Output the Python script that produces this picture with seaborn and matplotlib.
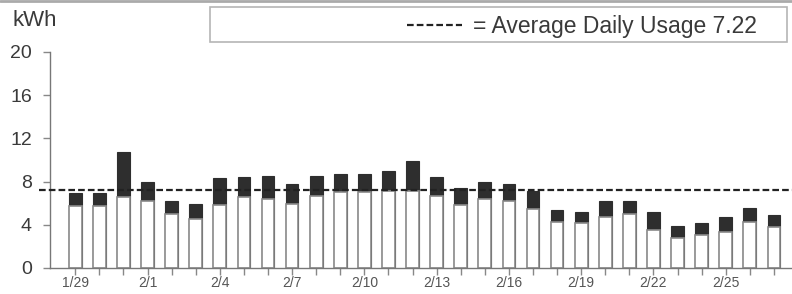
import numpy as np
import pandas as pd
import matplotlib
matplotlib.use("Agg")
import matplotlib.pyplot as plt
from matplotlib.lines import Line2D
from matplotlib.patches import Rectangle
import seaborn as sns

# Daily usage (kWh)
dates = ["1/29", "1/30", "1/31"] + [f"2/{d}" for d in range(1, 28)]
total_kwh = [6.9, 6.9, 10.7, 8.0, 6.2, 5.9, 8.3, 8.4, 8.5, 7.8,
             8.5, 8.7, 8.7, 9.0, 9.9, 8.4, 7.4, 8.0, 7.8, 7.1,
             5.4, 5.2, 6.2, 6.2, 5.2, 3.9, 4.2, 4.7, 5.6, 4.9]
base_kwh = [5.7, 5.7, 6.6, 6.2, 5.0, 4.5, 5.8, 6.6, 6.4, 5.9,
            6.7, 7.0, 7.0, 7.1, 7.1, 6.7, 5.8, 6.4, 6.2, 5.5,
            4.3, 4.2, 4.7, 5.0, 3.5, 2.8, 3.1, 3.3, 4.3, 3.8]
avg_usage = 7.22
y_ticks = [0, 4, 8, 12, 16, 20]

sns.set_theme(style="white")
plt.rcParams['font.family'] = ['Liberation Sans', 'DejaVu Sans']

df = pd.DataFrame({"date": dates, "total": total_kwh, "base": base_kwh})

fig = plt.figure(figsize=(7.92, 2.94), dpi=100)
ax = fig.add_axes([50 / 792, 26 / 294, 742 / 792, 216 / 294])

# dark top part = whole bar, white base drawn over it
sns.barplot(data=df, x="date", y="total", color="#2e2e2e", saturation=1,
            width=0.53, errorbar=None, edgecolor="#2e2e2e", linewidth=0.8, ax=ax)
sns.barplot(data=df, x="date", y="base", color="white", saturation=1,
            width=0.53, errorbar=None, edgecolor="#8a8a8a", linewidth=1.2, ax=ax)

ax.axhline(avg_usage, xmin=-0.015, xmax=1, color="#222222", lw=1.6,
           ls=(0, (3, 1.4)), clip_on=False, zorder=5)

ax.set_xlim(-1.05, 29.75)
ax.set_ylim(0, 20)
ax.set_yticks(y_ticks)
ax.set_yticklabels([str(v) for v in y_ticks])
ax.set_xticks(range(len(dates)))
ax.set_xticklabels([d if i % 3 == 0 else "" for i, d in enumerate(dates)])
ax.set_xlabel("")
ax.set_ylabel("")

for s in ["top", "right"]:
    ax.spines[s].set_visible(False)
for s in ["left", "bottom"]:
    ax.spines[s].set_color("#777777")
    ax.spines[s].set_linewidth(1.0)
ax.spines["left"].set_bounds(0, 20)

ax.tick_params(axis="y", direction="out", length=5, width=1, color="#888888",
               labelsize=14, labelcolor="#3a3a3a", pad=8, left=True)
ax.tick_params(axis="x", direction="out", length=5, width=1, color="#888888",
               labelsize=10, labelcolor="#555555", pad=1, bottom=True)

fig.text(12 / 792, 1 - 21 / 294, "kWh", fontsize=16, color="#3a3a3a",
         ha="left", va="center")

# legend box
fig.add_artist(Rectangle((210 / 792, 1 - 42 / 294), 577 / 792, 35 / 294,
                         transform=fig.transFigure, facecolor="white",
                         edgecolor="#b5b5b5", lw=1.2))
handle = Line2D([], [], color="#222222", lw=1.6, ls=(0, (3, 1.4)))
fig.legend([handle], ["= Average Daily Usage 7.22"], loc="center right",
           bbox_to_anchor=(778 / 792, 1 - 27 / 294), frameon=False,
           fontsize=16.5, handlelength=2.4, handletextpad=0.5,
           labelcolor="#3a3a3a")

# grey strip along the top edge
fig.add_artist(Line2D([0, 1], [0.997, 0.997], transform=fig.transFigure,
                      color="#aaaaaa", lw=2))

fig.savefig("out.png", dpi=100)
